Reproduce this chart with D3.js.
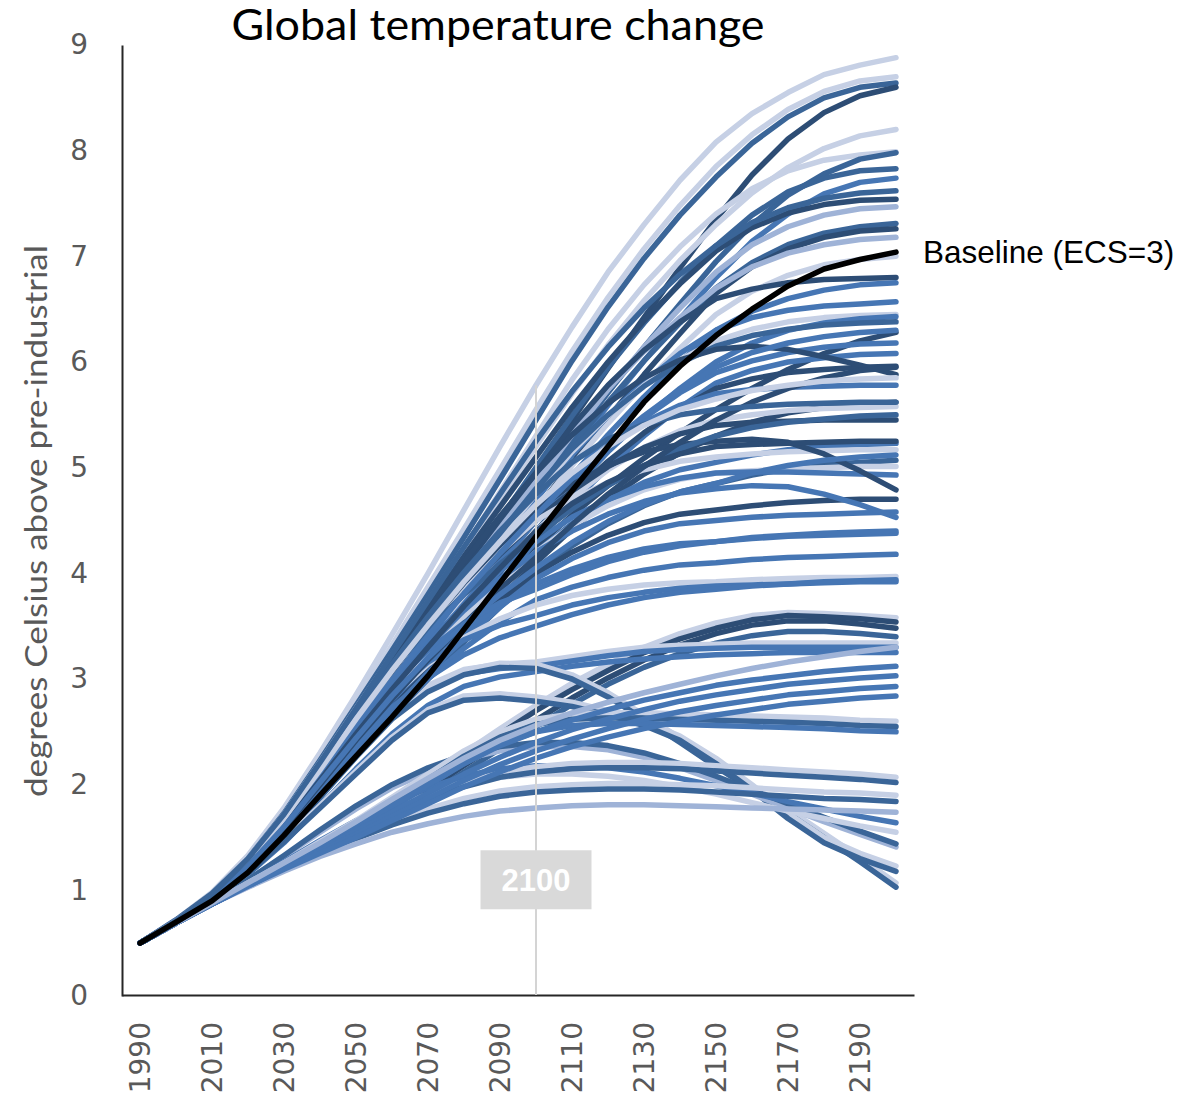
<!DOCTYPE html>
<html>
<head>
<meta charset="utf-8">
<script src="https://cdn.jsdelivr.net/npm/d3@7"></script>
<style>
  body { margin: 0; background: #fff; }
  svg { display: block; }
</style>
</head>
<body>
<svg id="chart" width="1201" height="1099"></svg>
<script>
// Decade steps of the simulation
const years = [1990, 2000, 2010, 2020, 2030, 2040, 2050, 2060, 2070, 2080, 2090,
               2100, 2110, 2120, 2130, 2140, 2150, 2160, 2170, 2180, 2190, 2200];
const tickYears = [1990, 2010, 2030, 2050, 2070, 2090, 2110, 2130, 2150, 2170, 2190];
const yTicks = [0, 1, 2, 3, 4, 5, 6, 7, 8, 9];
const markerYear = 2100;

// Baseline run, equilibrium climate sensitivity 3
const baselineRun = [0.5, 0.7, 0.9, 1.17, 1.52, 1.9, 2.27, 2.64, 3.03, 3.47, 3.91,
                     4.35, 4.78, 5.2, 5.62, 5.96, 6.25, 6.5, 6.72, 6.88, 6.97, 7.04];

// Sensitivity runs that stay on a rising path (degrees C above pre-industrial)
const upperRuns = [
  [0.5,0.72,0.98,1.33,1.78,2.3,2.85,3.42,4.0,4.6,5.2,5.78,6.33,6.85,7.3,7.72,8.08,8.35,8.55,8.72,8.81,8.88],
  [0.5,0.72,0.97,1.31,1.75,2.25,2.78,3.32,3.87,4.42,4.98,5.55,6.1,6.61,7.07,7.48,7.85,8.15,8.39,8.56,8.66,8.7],
  [0.5,0.72,0.97,1.3,1.73,2.23,2.75,3.27,3.8,4.34,4.89,5.45,6.01,6.52,6.98,7.39,7.75,8.07,8.32,8.5,8.6,8.64],
  [0.5,0.71,0.95,1.27,1.67,2.12,2.6,3.04,3.5,3.97,4.45,4.95,5.45,5.94,6.42,6.89,7.35,7.77,8.11,8.36,8.52,8.6],
  [0.5,0.71,0.96,1.29,1.71,2.19,2.7,3.2,3.7,4.2,4.7,5.2,5.7,6.16,6.58,6.96,7.3,7.6,7.84,8.02,8.14,8.2],
  [0.5,0.71,0.96,1.3,1.72,2.21,2.72,3.22,3.73,4.24,4.77,5.3,5.83,6.31,6.73,7.09,7.4,7.64,7.81,7.91,7.96,7.99],
  [0.5,0.71,0.95,1.26,1.65,2.09,2.55,2.99,3.44,3.89,4.34,4.8,5.26,5.71,6.14,6.55,6.95,7.3,7.58,7.78,7.92,7.98],
  [0.5,0.71,0.95,1.27,1.68,2.14,2.62,3.08,3.55,4.03,4.51,5.0,5.49,5.95,6.37,6.75,7.1,7.39,7.61,7.74,7.81,7.83],
  [0.5,0.7,0.94,1.24,1.62,2.05,2.5,2.93,3.37,3.81,4.25,4.7,5.15,5.59,6.01,6.41,6.8,7.14,7.4,7.59,7.7,7.74],
  [0.5,0.71,0.96,1.29,1.7,2.18,2.68,3.18,3.67,4.16,4.63,5.1,5.57,6.0,6.39,6.74,7.05,7.27,7.41,7.49,7.53,7.54],
  [0.5,0.71,0.95,1.27,1.66,2.11,2.58,3.03,3.48,3.94,4.39,4.85,5.31,5.74,6.14,6.51,6.85,7.11,7.28,7.39,7.45,7.47],
  [0.5,0.7,0.94,1.25,1.63,2.07,2.52,2.96,3.4,3.85,4.3,4.75,5.2,5.62,6.01,6.37,6.7,6.94,7.11,7.22,7.28,7.31],
  [0.5,0.7,0.93,1.23,1.6,2.02,2.45,2.87,3.3,3.73,4.16,4.6,5.04,5.47,5.88,6.27,6.65,6.9,7.07,7.18,7.24,7.26],
  [0.5,0.71,0.95,1.27,1.67,2.12,2.6,3.06,3.52,3.98,4.44,4.9,5.34,5.74,6.1,6.42,6.7,6.9,7.03,7.11,7.16,7.18],
  [0.5,0.7,0.94,1.24,1.61,2.04,2.48,2.91,3.34,3.76,4.18,4.6,5.02,5.42,5.79,6.13,6.45,6.67,6.82,6.92,6.97,7.0],
  [0.5,0.71,0.96,1.28,1.69,2.16,2.65,3.13,3.6,4.06,4.51,4.95,5.39,5.78,6.11,6.38,6.6,6.69,6.75,6.78,6.79,6.8],
  [0.5,0.7,0.93,1.23,1.59,2.0,2.42,2.83,3.24,3.66,4.08,4.5,4.92,5.31,5.67,6.0,6.3,6.48,6.6,6.68,6.73,6.75],
  [0.5,0.7,0.94,1.24,1.62,2.05,2.5,2.94,3.38,3.82,4.26,4.7,5.12,5.49,5.81,6.08,6.3,6.42,6.49,6.53,6.55,6.57],
  [0.5,0.71,0.95,1.26,1.65,2.09,2.55,3.01,3.46,3.9,4.33,4.75,5.15,5.49,5.78,6.02,6.2,6.31,6.38,6.42,6.44,6.45],
  [0.5,0.7,0.93,1.22,1.58,1.98,2.4,2.81,3.22,3.62,4.01,4.4,4.79,5.15,5.47,5.75,6.0,6.18,6.3,6.37,6.41,6.43],
  [0.5,0.71,0.95,1.27,1.66,2.11,2.58,3.05,3.51,3.95,4.38,4.8,5.18,5.5,5.77,5.99,6.15,6.25,6.31,6.35,6.37,6.38],
  [0.5,0.7,0.93,1.23,1.6,2.02,2.45,2.83,3.2,3.56,3.91,4.25,4.55,4.83,5.09,5.33,5.55,5.75,5.93,6.08,6.2,6.28],
  [0.5,0.7,0.93,1.23,1.6,2.02,2.45,2.88,3.3,3.71,4.11,4.5,4.87,5.19,5.47,5.71,5.9,6.01,6.09,6.14,6.17,6.18],
  [0.5,0.7,0.92,1.21,1.56,1.95,2.35,2.75,3.15,3.54,3.92,4.3,4.67,5.0,5.3,5.57,5.8,5.92,6.0,6.04,6.07,6.08],
  [0.5,0.7,0.93,1.22,1.58,1.98,2.4,2.81,3.22,3.62,4.01,4.4,4.75,5.06,5.33,5.56,5.75,5.84,5.9,5.93,5.95,5.96],
  [0.5,0.71,0.96,1.29,1.7,2.18,2.68,3.18,3.66,4.11,4.54,4.95,5.31,5.61,5.85,6.02,6.12,6.15,6.12,6.05,5.97,5.88],
  [0.5,0.7,0.94,1.25,1.63,2.07,2.52,2.98,3.42,3.84,4.23,4.6,4.93,5.21,5.43,5.59,5.7,5.74,5.76,5.77,5.78,5.78],
  [0.5,0.7,0.92,1.2,1.54,1.92,2.3,2.68,3.05,3.41,3.76,4.1,4.42,4.7,4.94,5.14,5.3,5.43,5.52,5.57,5.6,5.62],
  [0.5,0.7,0.93,1.23,1.6,2.02,2.45,2.88,3.29,3.68,4.05,4.4,4.72,4.98,5.19,5.35,5.45,5.5,5.54,5.56,5.57,5.58],
  [0.5,0.71,0.95,1.26,1.65,2.09,2.55,3.01,3.44,3.83,4.18,4.5,4.78,5.01,5.19,5.32,5.4,5.43,5.44,5.45,5.45,5.45],
  [0.5,0.7,0.93,1.22,1.57,1.97,2.38,2.79,3.18,3.54,3.88,4.2,4.47,4.69,4.86,4.98,5.05,5.12,5.17,5.2,5.22,5.23],
  [0.5,0.71,0.95,1.27,1.67,2.12,2.6,3.07,3.49,3.87,4.2,4.5,4.7,4.86,4.98,5.06,5.1,5.13,5.15,5.16,5.17,5.17],
  [0.5,0.7,0.91,1.19,1.53,1.9,2.28,2.65,3.0,3.35,3.68,4.0,4.26,4.47,4.64,4.77,4.85,4.93,4.99,5.03,5.05,5.07],
  [0.5,0.7,0.93,1.23,1.59,2.0,2.42,2.84,3.23,3.59,3.91,4.2,4.45,4.64,4.79,4.89,4.95,4.97,4.99,5.0,5.01,5.01],
  [0.5,0.7,0.94,1.24,1.62,2.05,2.5,2.94,3.34,3.7,4.02,4.3,4.53,4.7,4.82,4.9,4.95,4.96,4.96,4.95,4.94,4.93],
  [0.5,0.71,0.95,1.27,1.67,2.12,2.6,3.07,3.51,3.91,4.27,4.6,4.84,5.02,5.15,5.22,5.25,5.27,5.24,5.13,4.97,4.79],
  [0.5,0.7,0.92,1.21,1.56,1.95,2.35,2.74,3.1,3.43,3.73,4.0,4.2,4.36,4.48,4.56,4.6,4.64,4.67,4.69,4.7,4.7],
  [0.5,0.7,0.92,1.2,1.55,1.93,2.32,2.7,3.06,3.38,3.68,3.95,4.14,4.29,4.4,4.47,4.5,4.53,4.55,4.56,4.57,4.58],
  [0.5,0.7,0.94,1.24,1.62,2.05,2.5,2.93,3.31,3.65,3.95,4.2,4.4,4.56,4.68,4.76,4.8,4.83,4.82,4.75,4.65,4.53],
  [0.5,0.7,0.93,1.22,1.58,1.98,2.4,2.8,3.15,3.45,3.7,3.9,4.04,4.15,4.23,4.28,4.3,4.33,4.35,4.36,4.37,4.38],
  [0.5,0.7,0.92,1.2,1.54,1.92,2.3,2.67,3.0,3.29,3.54,3.75,3.87,3.96,4.03,4.08,4.1,4.13,4.15,4.16,4.17,4.18],
  [0.5,0.7,0.93,1.23,1.6,2.02,2.45,2.83,3.14,3.39,3.57,3.7,3.79,3.85,3.89,3.91,3.92,3.94,3.95,3.96,3.96,3.97],
  [0.5,0.7,0.94,1.24,1.62,2.05,2.5,2.87,3.16,3.37,3.51,3.6,3.7,3.77,3.82,3.86,3.88,3.89,3.9,3.91,3.92,3.92],
  [0.5,0.7,0.93,1.22,1.57,1.97,2.38,2.73,3.01,3.23,3.39,3.5,3.61,3.7,3.77,3.82,3.85,3.88,3.9,3.92,3.93,3.94],
  [0.5,0.71,0.95,1.26,1.65,2.09,2.55,2.95,3.27,3.53,3.72,3.85,3.99,4.11,4.2,4.26,4.3,4.34,4.36,4.38,4.39,4.4],
  [0.5,0.71,0.96,1.28,1.69,2.16,2.65,3.09,3.47,3.8,4.09,4.35,4.61,4.83,5.02,5.18,5.3,5.38,5.43,5.46,5.49,5.5],
  [0.5,0.7,0.93,1.23,1.59,2.0,2.42,2.81,3.18,3.52,3.85,4.15,4.46,4.75,5.01,5.24,5.45,5.62,5.75,5.85,5.92,5.95],
  [0.5,0.71,0.95,1.26,1.65,2.09,2.55,2.99,3.41,3.81,4.19,4.55,4.9,5.21,5.49,5.74,5.95,6.09,6.18,6.24,6.28,6.3],
  [0.5,0.71,0.96,1.28,1.69,2.16,2.66,3.14,3.59,4.01,4.4,4.75,5.05,5.27,5.41,5.5,5.55,5.58,5.6,5.61,5.62,5.62],
  [0.5,0.7,0.94,1.24,1.61,2.04,2.48,2.9,3.3,3.69,4.05,4.4,4.66,4.86,5.02,5.13,5.2,5.22,5.23,5.24,5.25,5.25],
  [0.5,0.71,0.95,1.27,1.68,2.14,2.62,3.08,3.51,3.92,4.3,4.65,4.95,5.2,5.4,5.55,5.65,5.73,5.78,5.82,5.84,5.85],
  [0.5,0.7,0.93,1.23,1.6,2.02,2.44,2.84,3.2,3.52,3.8,4.05,4.29,4.49,4.65,4.77,4.85,4.95,5.02,5.07,5.1,5.12],
  [0.5,0.71,0.96,1.3,1.72,2.21,2.72,3.23,3.74,4.25,4.75,5.25,5.72,6.14,6.51,6.83,7.1,7.32,7.46,7.55,7.6,7.62]
];
// Shade group of each upper run (0 = lightest ... 4 = darkest)
const upperShade = [0,0,3,4,0,0,3,3,2,4,1,3,4,1,0,4,2,2,0,2,3,4,2,2,4,4,2,4,0,4,2,0,3,0,2,4,4,2,2,2,2,0,2,2,2,3,4,2,3,4,0,2,3];

// Mitigation runs: capped, stabilised and overshoot paths
const lowerRuns = [
  [0.5,0.69,0.88,1.07,1.25,1.43,1.62,1.83,2.05,2.3,2.53,2.75,2.96,3.14,3.3,3.43,3.53,3.6,3.63,3.62,3.6,3.58],
  [0.5,0.69,0.88,1.06,1.23,1.4,1.58,1.78,2.0,2.25,2.48,2.7,2.9,3.08,3.25,3.38,3.48,3.56,3.6,3.59,3.57,3.54],
  [0.5,0.69,0.88,1.05,1.22,1.38,1.55,1.74,1.95,2.18,2.4,2.61,2.82,3.01,3.18,3.32,3.43,3.51,3.55,3.55,3.52,3.48],
  [0.5,0.69,0.87,1.04,1.2,1.36,1.52,1.7,1.9,2.12,2.34,2.55,2.76,2.95,3.11,3.24,3.34,3.41,3.45,3.45,3.43,3.4],
  [0.5,0.7,0.92,1.19,1.52,1.91,2.31,2.67,2.94,3.09,3.14,3.16,3.21,3.26,3.3,3.32,3.33,3.34,3.34,3.34,3.34,3.34],
  [0.5,0.7,0.92,1.18,1.5,1.88,2.27,2.63,2.9,3.05,3.1,3.12,3.17,3.22,3.26,3.28,3.29,3.3,3.3,3.3,3.3,3.3],
  [0.5,0.7,0.91,1.15,1.45,1.8,2.15,2.48,2.75,2.93,3.02,3.07,3.12,3.16,3.19,3.21,3.23,3.24,3.25,3.25,3.25,3.25],
  [0.5,0.7,0.92,1.19,1.52,1.9,2.29,2.65,2.92,3.08,3.15,3.14,3.04,2.87,2.66,2.44,2.21,1.99,1.77,1.54,1.31,1.07],
  [0.5,0.7,0.92,1.18,1.5,1.88,2.26,2.62,2.88,3.04,3.11,3.1,3.0,2.83,2.62,2.4,2.17,1.95,1.73,1.5,1.27,1.03],
  [0.5,0.7,0.91,1.17,1.48,1.8,2.13,2.45,2.71,2.84,2.86,2.83,2.78,2.7,2.6,2.46,2.25,2.0,1.73,1.5,1.35,1.23],
  [0.5,0.7,0.91,1.16,1.46,1.78,2.1,2.42,2.68,2.8,2.82,2.79,2.74,2.66,2.56,2.42,2.2,1.95,1.68,1.45,1.3,1.18],
  [0.5,0.69,0.89,1.1,1.32,1.55,1.77,1.97,2.12,2.24,2.32,2.36,2.36,2.33,2.26,2.16,2.04,1.91,1.78,1.65,1.53,1.41],
  [0.5,0.69,0.89,1.1,1.33,1.57,1.8,2.0,2.16,2.28,2.36,2.4,2.4,2.37,2.3,2.2,2.08,1.95,1.82,1.69,1.56,1.44],
  [0.5,0.69,0.88,1.06,1.25,1.44,1.62,1.78,1.91,2.01,2.07,2.1,2.1,2.08,2.04,1.98,1.91,1.83,1.75,1.68,1.61,1.55],
  [0.5,0.69,0.88,1.07,1.27,1.47,1.66,1.83,1.97,2.08,2.15,2.18,2.18,2.16,2.12,2.06,1.99,1.92,1.84,1.77,1.7,1.64],
  [0.5,0.69,0.88,1.06,1.25,1.43,1.6,1.76,1.9,2.02,2.11,2.17,2.2,2.21,2.21,2.2,2.18,2.16,2.14,2.12,2.1,2.07],
  [0.5,0.69,0.88,1.06,1.24,1.41,1.57,1.72,1.86,1.98,2.07,2.12,2.15,2.16,2.16,2.15,2.13,2.11,2.09,2.07,2.05,2.02],
  [0.5,0.69,0.87,1.04,1.21,1.37,1.52,1.66,1.77,1.87,1.94,1.98,2.0,2.01,2.01,2.0,1.99,1.97,1.95,1.93,1.92,1.9],
  [0.5,0.69,0.87,1.04,1.2,1.35,1.49,1.62,1.73,1.82,1.89,1.93,1.95,1.96,1.96,1.95,1.93,1.91,1.89,1.87,1.86,1.84],
  [0.5,0.69,0.87,1.03,1.18,1.32,1.44,1.55,1.63,1.7,1.75,1.78,1.8,1.81,1.81,1.8,1.79,1.78,1.77,1.76,1.75,1.74],
  [0.5,0.69,0.88,1.07,1.26,1.46,1.66,1.88,2.1,2.32,2.5,2.62,2.67,2.68,2.68,2.67,2.66,2.65,2.64,2.63,2.61,2.6],
  [0.5,0.69,0.88,1.06,1.24,1.43,1.62,1.83,2.05,2.27,2.45,2.57,2.62,2.63,2.63,2.62,2.61,2.6,2.59,2.58,2.56,2.55],
  [0.5,0.69,0.87,1.05,1.22,1.4,1.58,1.78,1.99,2.2,2.38,2.5,2.56,2.58,2.58,2.57,2.56,2.55,2.54,2.53,2.51,2.5],
  [0.5,0.69,0.88,1.06,1.24,1.42,1.6,1.8,2.0,2.2,2.37,2.5,2.61,2.71,2.8,2.87,2.94,2.99,3.03,3.07,3.1,3.12],
  [0.5,0.69,0.87,1.05,1.22,1.39,1.56,1.74,1.92,2.1,2.26,2.4,2.52,2.62,2.71,2.79,2.85,2.9,2.95,2.98,3.01,3.03],
  [0.5,0.69,0.87,1.04,1.21,1.37,1.53,1.7,1.87,2.04,2.19,2.32,2.43,2.53,2.62,2.69,2.75,2.8,2.85,2.88,2.91,2.93],
  [0.5,0.69,0.87,1.04,1.2,1.35,1.5,1.66,1.82,1.98,2.12,2.25,2.36,2.45,2.53,2.6,2.66,2.71,2.76,2.79,2.82,2.84],
  [0.5,0.69,0.88,1.07,1.26,1.45,1.65,1.86,2.06,2.25,2.42,2.56,2.68,2.78,2.87,2.95,3.03,3.1,3.16,3.21,3.26,3.3]
];
const lowerShade = [0,4,4,3,0,2,2,0,3,0,3,1,3,0,2,0,3,0,3,1,0,3,2,2,2,2,2,1];

const W = 1201, H = 1099;
const svg = d3.select("#chart").attr("viewBox", `0 0 ${W} ${H}`);

const x = d3.scalePoint().domain(years).range([122, 914]).padding(0.5);
const y = d3.scaleLinear().domain([0, 9]).range([996, 45]);
const shade = d3.scaleOrdinal()
  .domain([0, 1, 2, 3, 4])
  .range(["#c6d0e5", "#9fb3d7", "#4676b4", "#3a6598", "#2d4d75"]);

const line = d3.line()
  .x((d, i) => x(years[i]))
  .y(d => y(d));

const labelGrey = "#595959";

// Axes
const xAxis = svg.append("g")
  .attr("transform", `translate(0,${y(0) - 1})`)
  .call(d3.axisBottom(x).tickValues(tickYears).tickSize(0).tickSizeOuter(0))
  .attr("font-family", null).attr("font-size", null);
xAxis.select(".domain").attr("stroke", "#262626").attr("stroke-width", 2);
xAxis.selectAll(".tick text")
  .attr("transform", "rotate(-90)")
  .attr("x", -27).attr("y", 0).attr("dy", "0.35em")
  .attr("text-anchor", "end")
  .attr("fill", labelGrey)
  .style("font-family", "'DejaVu Sans', Verdana, sans-serif")
  .style("font-size", "28px");

const yAxis = svg.append("g")
  .attr("transform", `translate(${x.range()[0]},0)`)
  .call(d3.axisLeft(y).tickValues(yTicks).tickSize(0).tickSizeOuter(0).tickPadding(34))
  .attr("font-family", null).attr("font-size", null);
yAxis.select(".domain").attr("stroke", "#262626").attr("stroke-width", 2);
yAxis.selectAll(".tick text")
  .attr("fill", labelGrey)
  .style("font-family", "'DejaVu Sans', Verdana, sans-serif")
  .style("font-size", "28px");

// Ensemble runs
const runs = svg.append("g")
  .attr("fill", "none")
  .attr("stroke-width", 5.5)
  .attr("stroke-linecap", "round")
  .attr("stroke-linejoin", "round");

runs.selectAll("path.lower")
  .data(lowerRuns)
  .join("path")
  .attr("class", "lower")
  .attr("d", line)
  .attr("stroke", (d, i) => shade(lowerShade[i]));

runs.selectAll("path.upper")
  .data(upperRuns)
  .join("path")
  .attr("class", "upper")
  .attr("d", line)
  .attr("stroke", (d, i) => shade(upperShade[i]));

runs.append("path")
  .attr("d", line(baselineRun))
  .attr("stroke", "#000")
  .attr("stroke-width", 5.5);

// Marker at 2100, reaching the highest run of that year
const mi = years.indexOf(markerYear);
const topAtMarker = d3.max(upperRuns.concat(lowerRuns), r => r[mi]);
svg.append("line")
  .attr("x1", x(markerYear)).attr("x2", x(markerYear))
  .attr("y1", y(topAtMarker)).attr("y2", y(0) - 1)
  .attr("stroke", "#d4d4d4")
  .attr("stroke-width", 2);

const tag = svg.append("g").attr("transform", `translate(${x(markerYear)},${y(1.1)})`);
tag.append("rect")
  .attr("x", -55.5).attr("y", -29.5)
  .attr("width", 111).attr("height", 59)
  .attr("fill", "#d9d9d9");
tag.append("text")
  .attr("text-anchor", "middle")
  .attr("dy", "0.36em")
  .attr("fill", "#fff")
  .style("font-family", "'Liberation Sans', Arial, sans-serif")
  .style("font-weight", "bold")
  .style("font-size", "31px")
  .text(String(markerYear));

// Baseline label at the end of the black run
svg.append("text")
  .attr("x", x(years[years.length - 1]) + 27)
  .attr("y", y(baselineRun[baselineRun.length - 1]))
  .attr("dy", "0.36em")
  .attr("fill", "#000")
  .style("font-family", "'Liberation Sans', Arial, sans-serif")
  .style("font-size", "31.5px")
  .text("Baseline (ECS=3)");

// Titles
svg.append("text")
  .attr("x", 498).attr("y", 40)
  .attr("text-anchor", "middle")
  .attr("fill", "#000")
  .attr("textLength", 533)
  .attr("lengthAdjust", "spacingAndGlyphs")
  .style("font-family", "Lato, 'Open Sans', sans-serif")
  .style("font-size", "42px")
  .text("Global temperature change");

svg.append("text")
  .attr("transform", "translate(47,521) rotate(-90)")
  .attr("text-anchor", "middle")
  .attr("fill", labelGrey)
  .attr("textLength", 552)
  .attr("lengthAdjust", "spacingAndGlyphs")
  .style("font-family", "Lato, 'Open Sans', sans-serif")
  .style("font-size", "30px")
  .text("degrees Celsius above pre-industrial");
</script>
</body>
</html>
